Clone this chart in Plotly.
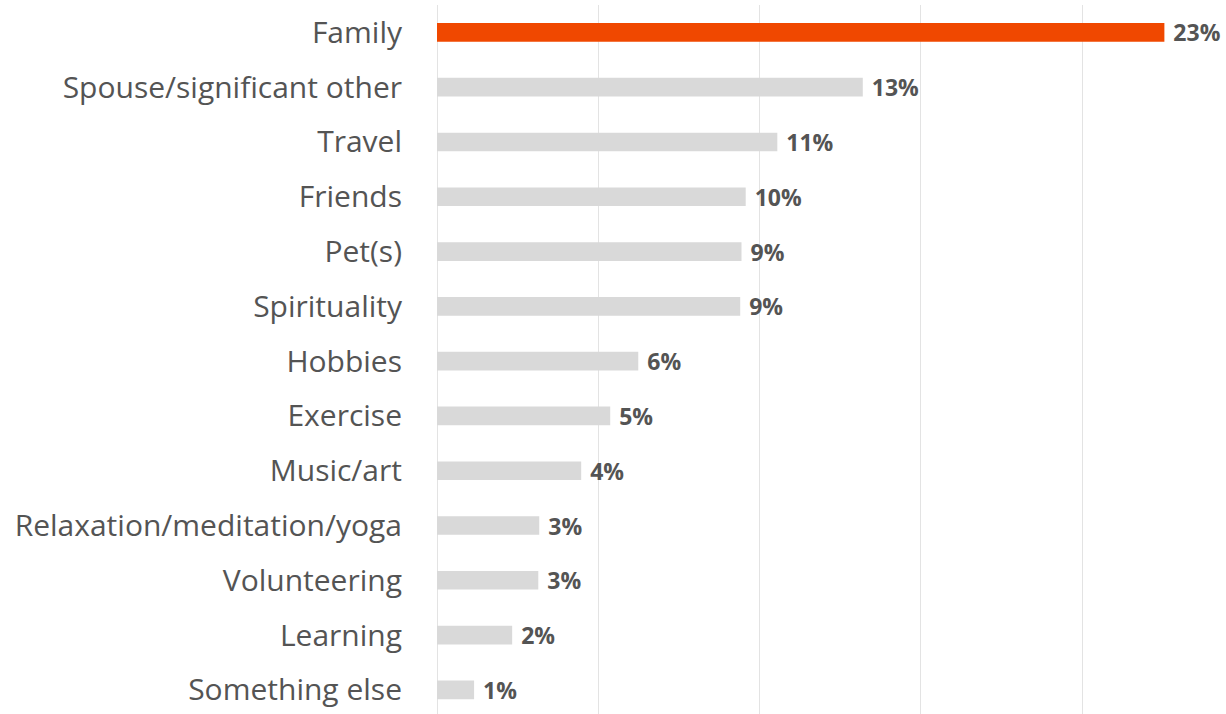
import plotly.graph_objects as go

categories = [
    "Family", "Spouse/significant other", "Travel", "Friends", "Pet(s)",
    "Spirituality", "Hobbies", "Exercise", "Music/art",
    "Relaxation/meditation/yoga", "Volunteering", "Learning", "Something else",
]
shares = [22.55, 13.2, 10.55, 9.57, 9.44, 9.4, 6.24, 5.37, 4.47, 3.17, 3.14, 2.33, 1.15]
highlight = "Family"

ORANGE = "#F04800"
GRAY = "#D9D9D9"
colors = [ORANGE if c == highlight else GRAY for c in categories]

fig = go.Figure(
    go.Bar(
        x=shares,
        y=categories,
        orientation="h",
        marker=dict(color=colors, line=dict(width=0)),
        width=0.34,
        texttemplate="\u00a0%{x:.0f}%",
        textposition="outside",
        constraintext="none",
        cliponaxis=False,
        textfont=dict(family="Open Sans", size=23, color="#545454", weight="bold"),
        hoverinfo="skip",
    )
)

fig.update_layout(
    width=1226,
    height=714,
    margin=dict(l=437, r=0, t=5, b=0),
    paper_bgcolor="white",
    plot_bgcolor="white",
    showlegend=False,
    font=dict(family="Open Sans", color="#545454"),
)
fig.update_xaxes(
    range=[0, 24.46],
    dtick=5,
    showgrid=True,
    gridcolor="#E3E3E3",
    gridwidth=1,
    zeroline=True,
    zerolinecolor="#E3E3E3",
    zerolinewidth=1,
    showticklabels=False,
    showline=False,
)
fig.update_yaxes(
    categoryorder="array",
    categoryarray=categories,
    range=[12.44, -0.5],
    showgrid=False,
    showline=False,
    ticks="",
    ticklabelstandoff=34,
    tickfont=dict(family="Open Sans", size=30, color="#545454"),
)

fig.write_html("out.html")
